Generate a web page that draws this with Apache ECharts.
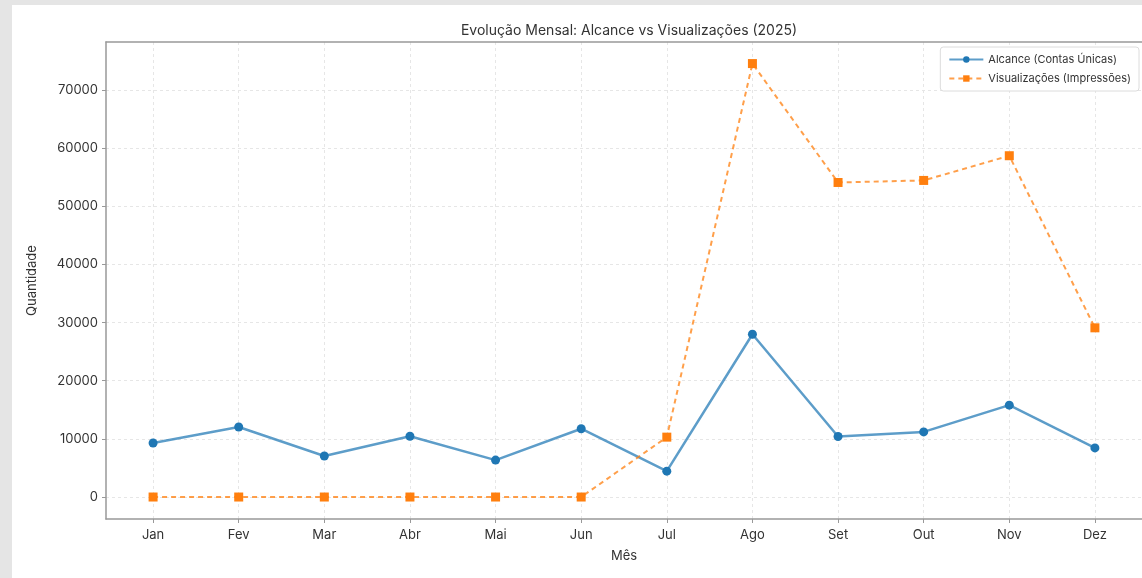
<!DOCTYPE html>
<html>
<head>
<meta charset="utf-8">
<script src="https://cdn.jsdelivr.net/npm/echarts@6/dist/echarts.min.js"></script>
<style>
  html, body { margin: 0; padding: 0; background: #e5e5e5; width: 1142px; height: 578px; overflow: hidden; }
  #chart { position: absolute; left: 12px; top: 5px; width: 1130px; height: 573px; background: #ffffff; }
</style>
</head>
<body>
<div id="chart"></div>
<script>
const months = ['Jan', 'Fev', 'Mar', 'Abr', 'Mai', 'Jun', 'Jul', 'Ago', 'Set', 'Out', 'Nov', 'Dez'];
const alcance = [9300, 12050, 7050, 10450, 6350, 11750, 4450, 28000, 10400, 11200, 15800, 8450];
const visualizacoes = [0, 0, 0, 0, 0, 0, 10300, 74550, 54100, 54450, 58700, 29100];
const yTicks = [0, 10000, 20000, 30000, 40000, 50000, 60000, 70000];
const monthIdx = months.map((m, i) => i);

const chart = echarts.init(document.getElementById('chart'));
const font = 'Inter, "Noto Sans", "DejaVu Sans", sans-serif';
const gridLine = { show: true, lineStyle: { color: '#e6e6e6', type: [3, 3], width: 1 } };
const spine = { show: true, onZero: false, lineStyle: { color: '#999', width: 1.5 } };

chart.setOption({
  animation: false,
  textStyle: { fontFamily: font },
  title: {
    text: 'Evolução Mensal: Alcance vs Visualizações (2025)',
    left: 612, top: 14, textAlign: 'center',
    textStyle: { fontFamily: font, fontSize: 14, fontWeight: 'normal', color: '#333' }
  },
  grid: { left: 94, top: 37, right: -3, bottom: 59, show: false },
  legend: {
    right: 3, top: 42,
    orient: 'vertical',
    backgroundColor: '#fff', borderColor: '#dcdcdc', borderWidth: 1, borderRadius: 3,
    padding: [7, 8, 7, 8], itemGap: 8, itemWidth: 34, itemHeight: 8,
    textStyle: { fontFamily: font, fontSize: 11, color: '#333' },
    data: ['Alcance (Contas Únicas)', 'Visualizações (Impressões)']
  },
  xAxis: [{
    type: 'value', min: -0.55, max: 11.55,
    name: 'Mês', nameLocation: 'middle', nameGap: 31,
    nameTextStyle: { fontFamily: font, fontSize: 13, color: '#333' },
    axisLine: spine,
    axisTick: { show: true, length: 4, lineStyle: { color: '#999' }, customValues: monthIdx },
    axisLabel: { customValues: monthIdx, formatter: v => months[Math.round(v)], fontFamily: font, fontSize: 13, color: '#333', margin: 10 },
    splitLine: gridLine
  }, {
    type: 'value', min: -0.55, max: 11.55, position: 'top',
    axisLine: spine, axisTick: { show: false }, axisLabel: { show: false }, splitLine: { show: false }
  }],
  yAxis: {
    type: 'value', min: -3780, max: 78260,
    name: 'Quantidade', nameLocation: 'middle', nameGap: 67, nameRotate: 90,
    nameTextStyle: { fontFamily: font, fontSize: 13, color: '#333' },
    axisLine: spine,
    axisTick: { show: true, length: 4, lineStyle: { color: '#999' }, customValues: yTicks },
    axisLabel: { customValues: yTicks, formatter: v => String(v), fontFamily: font, fontSize: 13, color: '#333', margin: 8 },
    splitLine: gridLine
  },
  series: [
    {
      name: 'Alcance (Contas Únicas)', type: 'line',
      data: alcance.map((v, i) => [i, v]),
      symbol: 'circle', symbolSize: 9,
      lineStyle: { color: 'rgba(31,119,180,0.72)', width: 2.5 },
      itemStyle: { color: '#1f77b4' },
      z: 3
    },
    {
      name: 'Visualizações (Impressões)', type: 'line',
      data: visualizacoes.map((v, i) => [i, v]),
      symbol: 'rect', symbolSize: 9,
      lineStyle: { color: 'rgba(255,127,14,0.75)', width: 2, type: [5, 4] },
      itemStyle: { color: '#ff7f0e' },
      z: 4
    }
  ]
});
</script>
</body>
</html>
